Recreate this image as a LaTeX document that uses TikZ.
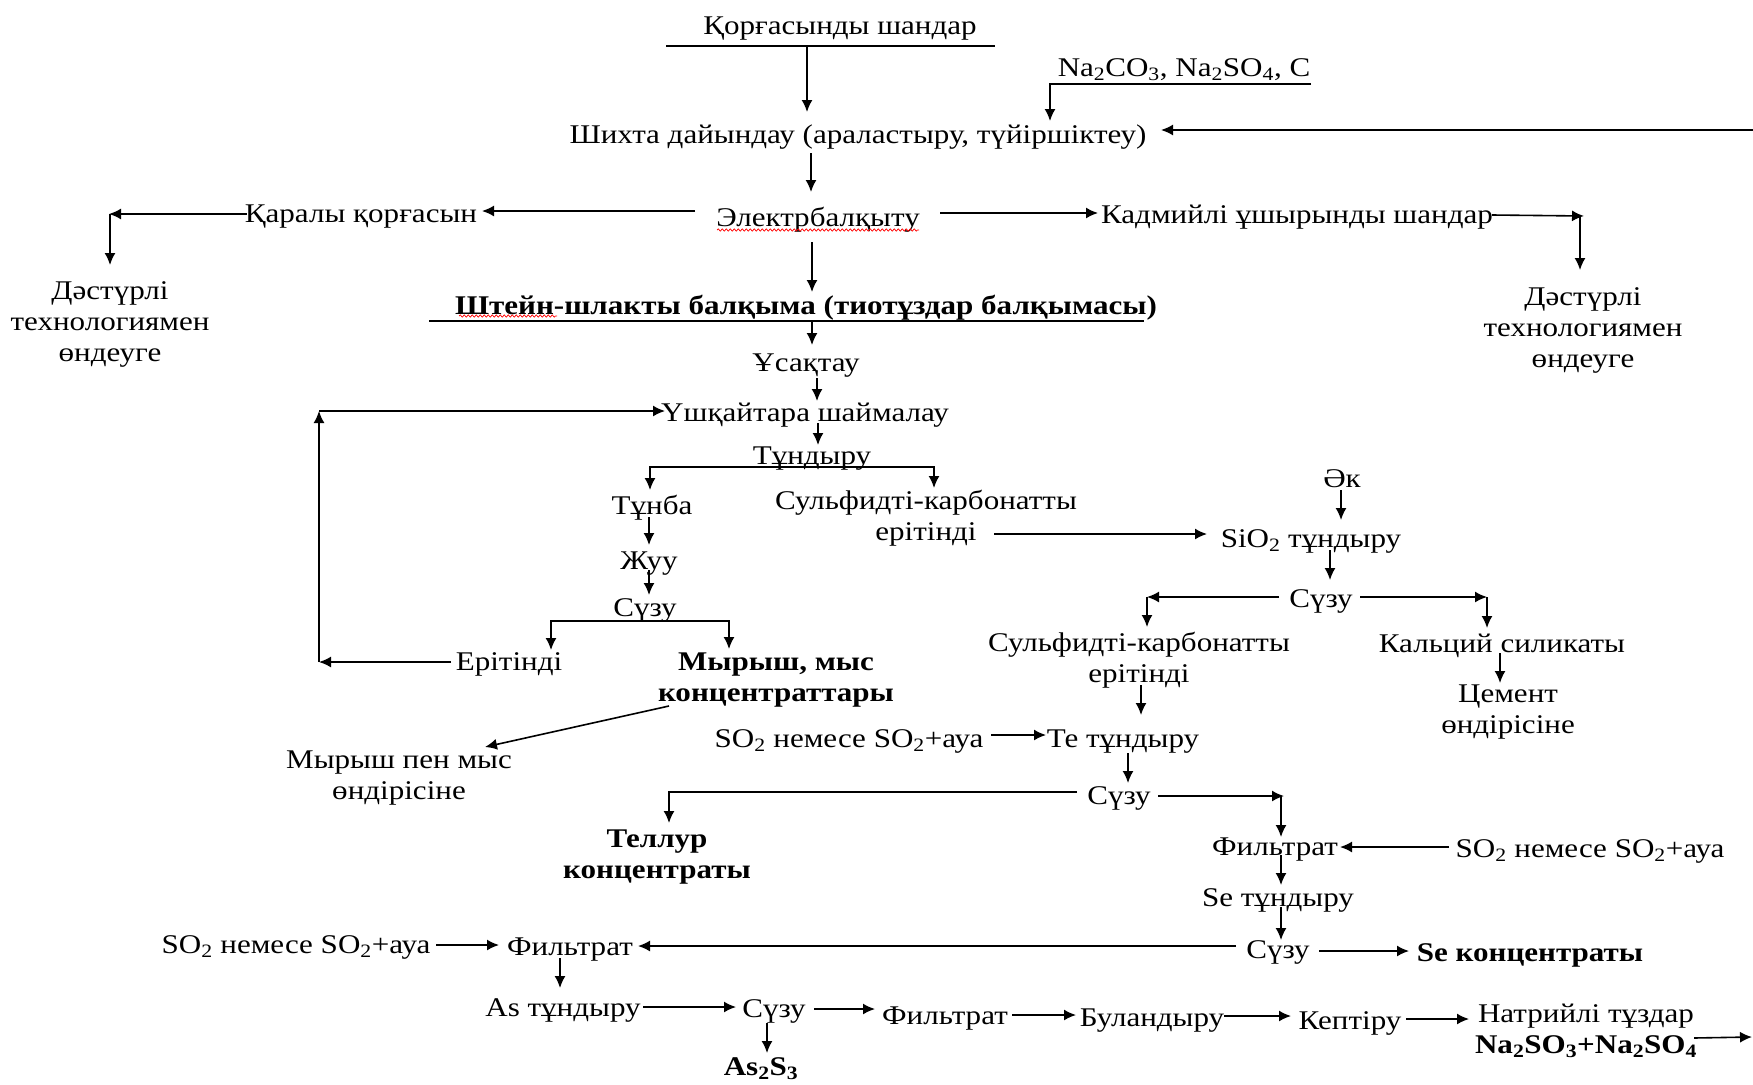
\documentclass[tikz,border=0pt]{standalone}
\usepackage{fontspec}
\setmainfont{Liberation Serif}[FakeStretch=1.15]
\usetikzlibrary{arrows.meta,calc,decorations.pathmorphing}
\newcommand{\mystrut}{\rule[-6.3pt]{0pt}{31pt}}
\begin{document}
\begin{tikzpicture}[x=1pt,y=-1pt,
  t/.style={inner sep=0pt, align=center, font=\fontsize{27}{31}\selectfont,
    execute at begin node=\mystrut, execute at end node=\mystrut},
  b/.style={t, font=\fontsize{27}{31}\selectfont\bfseries},
  ln/.style={line width=1.6pt},
  arr/.style={ln, -{Latex[length=12pt,width=11pt]}},
  wavy/.style={red, line width=0.7pt, decorate, decoration={snake, amplitude=1.1pt, segment length=4pt}}]
\fill[white] (0,0) rectangle (1753,1084);
\useasboundingbox (0,0) rectangle (1753,1084);

% nodes
\node[t] (korg) at (840,25) {Қорғасынды шандар};
\node[t] (na) at (1184,67) {Na\textsubscript{2}CO\textsubscript{3}, Na\textsubscript{2}SO\textsubscript{4}, C};
\node[t] (shixta) at (858,134) {Шихта дайындау (араластыру, түйіршіктеу)};
\node[t] (elektr) at (818,217) {Электрбалқыту};
\node[t] (qarala) at (361,213) {Қаралы қорғасын};
\node[t] (dast1) at (110,325) {Дәстүрлі\\технологиямен\\өндеуге};
\node[t] (kadm) at (1297,214) {Кадмийлі ұшырынды шандар};
\node[t] (dast2) at (1583,331) {Дәстүрлі\\технологиямен\\өндеуге};
\node[b] (shtein) at (806,305) {Штейн-шлакты балқыма (тиотұздар балқымасы)};
\node[t] (usaq) at (806,362) {Ұсақтау};
\node[t] (ush) at (805,412) {Үшқайтара шаймалау};
\node[t] (tund) at (812,455) {Тұндыру};
\node[t] (tunba) at (652,505) {Тұнба};
\node[t] (sulf1) at (926,518) {Сульфидті-карбонатты\\ерітінді};
\node[t] (ak) at (1342,478) {Әк};
\node[t] (sio2) at (1311,538) {SiO\textsubscript{2} тұндыру};
\node[t] (suzu2) at (1321,598) {Сүзу};
\node[t] (sulf2) at (1139,660) {Сульфидті-карбонатты\\ерітінді};
\node[t] (kalc) at (1502,643) {Кальций силикаты};
\node[t] (cement) at (1508,712) {Цемент\\өндірісіне};
\node[t] (zhuu) at (649,560) {Жуу};
\node[t] (suzu1) at (645,607) {Сүзу};
\node[t] (eritindi) at (509,661) {Ерітінді};
\node[b] (myrysh) at (776,680) {Мырыш, мыс\\концентраттары};
\node[t] (myrond) at (399,778) {Мырыш пен мыс\\өндірісіне};
\node[t] (so2a) at (849,738) {SO\textsubscript{2} немесе SO\textsubscript{2}+ауа};
\node[t] (te) at (1123,738) {Те тұндыру};
\node[t] (suzu3) at (1119,795) {Сүзу};
\node[b] (tellur) at (657,857) {Теллур\\концентраты};
\node[t] (filtr1) at (1275,846) {Фильтрат};
\node[t] (so2b) at (1590,848) {SO\textsubscript{2} немесе SO\textsubscript{2}+ауа};
\node[t] (se) at (1278,897) {Se тұндыру};
\node[t] (suzu4) at (1278,949) {Сүзу};
\node[b] (secon) at (1530,952) {Se концентраты};
\node[t] (filtr2) at (570,946) {Фильтрат};
\node[t] (so2c) at (296,944) {SO\textsubscript{2} немесе SO\textsubscript{2}+ауа};
\node[t] (as) at (563,1007) {As тұндыру};
\node[t] (suzu5) at (774,1008) {Сүзу};
\node[b] (as2s3) at (761,1066) {As\textsubscript{2}S\textsubscript{3}};
\node[t] (filtr3) at (945,1015) {Фильтрат};
\node[t] (bul) at (1152,1017) {Буландыру};
\node[t] (kept) at (1350,1020) {Кептіру};
\node[t] (natr) at (1586,1032) {Натрийлі тұздар\\\textbf{Na\textsubscript{2}SO\textsubscript{3}+Na\textsubscript{2}SO\textsubscript{4}}};
\coordinate (redge) at (1753.5,1037);
\coordinate (loopbl) at (319,662);
\coordinate (looptl) at (319,411);

% underlines and spell-check marks
\draw[ln] ($(korg)+(-174,21)$) -- ($(korg)+(155,21)$);
\draw[ln] ($(shtein)+(-377,16)$) -- ($(shtein)+(338,16)$);
\draw[wavy] ($(elektr)+(-101,13)$) -- ($(elektr)+(101,13)$);
\draw[wavy] ($(shtein)+(-347,11)$) -- ($(shtein)+(-249,11)$);

% connectors
\draw[arr] ($(korg)+(-33,21)$) -- ($(shixta)+(-51,-22)$);
\draw[arr] ($(na)+(127,17)$) -| ($(shixta)+(192,-13)$);
\draw[arr] ($(shixta)+(-47,19)$) -- ($(elektr)+(-7,-25)$);
\draw[arr] ($(elektr)+(-123,-6)$) -- ($(qarala)+(121,-2)$);
\draw[arr] ($(qarala)+(-114,1)$) -- ($(dast1)+(-1,-111)$);
\draw[arr] ($(dast1)+(0,-111)$) -- ($(dast1)+(0,-60)$);
\draw[arr] ($(elektr)+(122,-4)$) -- ($(kadm)+(-199,-1)$);
\draw[arr] ($(kadm)+(195,1)$) -- ($(dast2)+(1,-115)$);
\draw[arr] ($(dast2)+(-3,-115)$) -- ($(dast2)+(-3,-61)$);
\draw[arr] ($(elektr)+(-6,25)$) -- ($(shtein)+(6,-13)$);
\draw[arr] ($(shtein)+(6,16)$) -- ($(usaq)+(6,-17)$);
\draw[arr] ($(usaq)+(11,16)$) -- ($(ush)+(12,-11)$);
\draw[arr] ($(ush)+(13,11)$) -- ($(tund)+(6,-10)$);
\draw[arr] ($(tund)+(0,12)$) -| ($(tunba)+(-2,-15)$);
\draw[arr] ($(tund)+(0,12)$) -| ($(sulf1)+(8,-30)$);
\draw[arr] ($(tunba)+(-3,12)$) -- ($(zhuu)+(0,-15)$);
\draw[arr] ($(zhuu)+(0,10)$) -- ($(suzu1)+(4,-12)$);
\draw[arr] ($(suzu1)+(0,14)$) -| ($(eritindi)+(42,-11)$);
\draw[arr] ($(suzu1)+(0,14)$) -| ($(myrysh)+(-47,-31)$);
\draw[arr] ($(eritindi)+(-58,1)$) -- (loopbl);
\draw[arr] (loopbl) -- (looptl);
\draw[arr] (looptl) -- ($(ush)+(-140,-1)$);
\draw[arr] ($(myrysh)+(-107,26)$) -- ($(myrond)+(86,-31)$);
\draw[arr] ($(sulf1)+(68,16)$) -- ($(sio2)+(-104,-4)$);
\draw[arr] ($(ak)+(-1,12)$) -- ($(sio2)+(30,-18)$);
\draw[arr] ($(sio2)+(19,12)$) -- ($(suzu2)+(9,-18)$);
\draw[arr] ($(suzu2)+(-42,-1)$) -- ($(sulf2)+(8,-63)$);
\draw[arr] ($(sulf2)+(8,-63)$) -- ($(sulf2)+(8,-33)$);
\draw[arr] ($(suzu2)+(39,-1)$) -- ($(kalc)+(-15,-46)$);
\draw[arr] ($(kalc)+(-15,-46)$) -- ($(kalc)+(-15,-15)$);
\draw[arr] ($(kalc)+(-2,10)$) -- ($(cement)+(-8,-29)$);
\draw[arr] ($(sulf2)+(2,25)$) -- ($(te)+(18,-23)$);
\draw[arr] ($(so2a)+(142,-3)$) -- ($(te)+(-77,-3)$);
\draw[arr] ($(te)+(5,15)$) -- ($(suzu3)+(9,-12)$);
\draw[arr] ($(suzu3)+(-42,-3)$) -| ($(tellur)+(12,-34)$);
\draw[arr] ($(suzu3)+(39,1)$) -- ($(filtr1)+(9,-50)$);
\draw[arr] ($(filtr1)+(6,-50)$) -- ($(filtr1)+(6,-9)$);
\draw[arr] ($(so2b)+(-141,-1)$) -- ($(filtr1)+(65,1)$);
\draw[arr] ($(filtr1)+(6,9)$) -- ($(se)+(3,-12)$);
\draw[arr] ($(se)+(3,10)$) -- ($(suzu4)+(3,-9)$);
\draw[arr] ($(suzu4)+(41,2)$) -- ($(secon)+(-121,-1)$);
\draw[arr] ($(suzu4)+(-42,-3)$) -- ($(filtr2)+(68,0)$);
\draw[arr] ($(so2c)+(140,1)$) -- ($(filtr2)+(-71,-1)$);
\draw[arr] ($(filtr2)+(-10,12)$) -- ($(as)+(-3,-19)$);
\draw[arr] ($(as)+(80,0)$) -- ($(suzu5)+(-38,-1)$);
\draw[arr] ($(suzu5)+(-7,15)$) -- ($(as2s3)+(6,-13)$);
\draw[arr] ($(suzu5)+(40,1)$) -- ($(filtr3)+(-70,-6)$);
\draw[arr] ($(filtr3)+(67,0)$) -- ($(bul)+(-76,-2)$);
\draw[arr] ($(bul)+(72,-1)$) -- ($(kept)+(-59,-4)$);
\draw[arr] ($(kept)+(56,-1)$) -- ($(natr)+(-117,-13)$);
\draw[arr] ($(natr)+(108,6)$) -- ($(redge)+(-1.5,0)$);
\draw[arr] (redge) |- ($(shixta)+(303,-4)$);
\end{tikzpicture}
\end{document}
